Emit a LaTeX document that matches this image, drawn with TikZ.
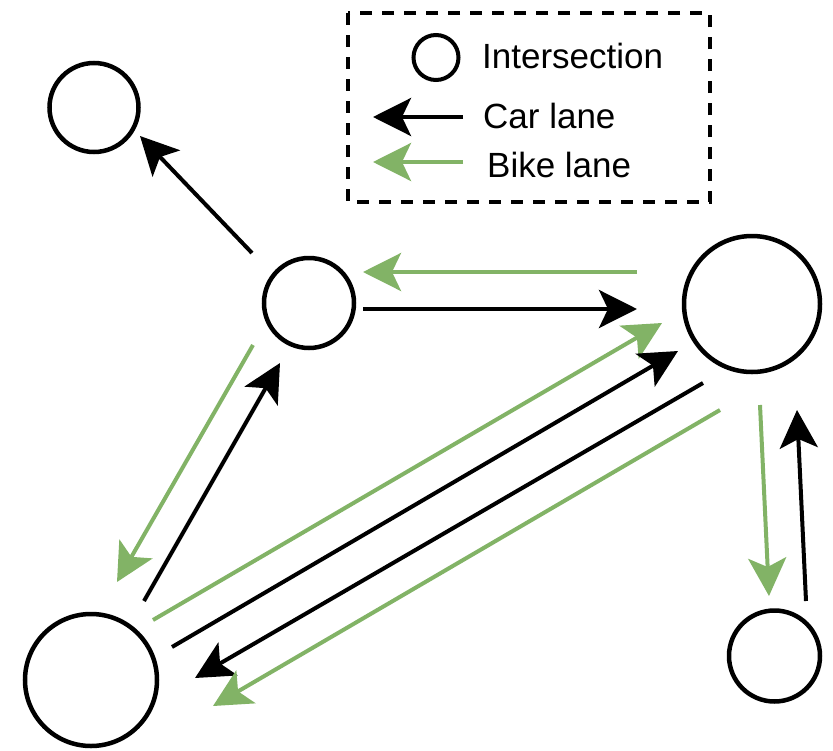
\documentclass[tikz,border=0pt]{standalone}
\usepackage{fontspec}
\setmainfont{Liberation Sans}
\usetikzlibrary{arrows.meta}
\definecolor{bikegreen}{HTML}{82B366}
\begin{document}
\begin{tikzpicture}[x=1pt,y=-1pt,
  inter/.style={circle,draw=black,line width=4.5pt,inner sep=0pt},
  tiphead/.style={-{Stealth[length=38pt,width=38pt,inset=9pt]}},
  car/.style={draw=black,line width=4pt,tiphead},
  bike/.style={draw=bikegreen,line width=4pt,tiphead},
  lbl/.style={anchor=base west,font=\fontsize{35}{42}\selectfont,inner sep=0pt}]
\useasboundingbox (0,0) rectangle (833,750);

% legend
\draw[line width=4pt,dash pattern=on 12pt off 10pt] (348,13) rectangle (710,202);
\node[inter,line width=4pt,minimum size=45pt] (legc) at (436,57.5) {};
\node[lbl] (legi) at (482,68) {Intersection};
\node[lbl] (legcar) at (483,128) {Car lane};
\node[lbl] (legbike) at (487,177) {Bike lane};
\coordinate (lc1) at (463,117); \coordinate (lc2) at (373,117);
\coordinate (lb1) at (463,162); \coordinate (lb2) at (373,162);
\draw[car] (lc1) -- (lc2);
\draw[bike] (lb1) -- (lb2);

% intersections
\node[inter,minimum size=89pt] (tl) at (94,107.5) {};
\node[inter,minimum size=90pt] (mid) at (309,303) {};
\node[inter,minimum size=136pt] (rt) at (752,304) {};
\node[inter,minimum size=132pt] (bl) at (91,680) {};
\node[inter,minimum size=91pt] (br) at (774.5,656) {};

% lane end points
\coordinate (a1s) at (252,253); \coordinate (a1e) at (140,136);
\coordinate (a2s) at (637,272); \coordinate (a2e) at (363,272);
\coordinate (a3s) at (363,309); \coordinate (a3e) at (637,309);
\coordinate (a4s) at (760,405); \coordinate (a4e) at (769,596);
\coordinate (a5s) at (806,601); \coordinate (a5e) at (797,410);
\coordinate (a6s) at (253,345); \coordinate (a6e) at (117,582);
\coordinate (a7s) at (144,601); \coordinate (a7e) at (280,363);
\coordinate (a8s) at (153,620); \coordinate (a8e) at (662,323);
\coordinate (a9s) at (172,647); \coordinate (a9e) at (678,351);
\coordinate (a10s) at (703,383); \coordinate (a10e) at (195,678);
\coordinate (a11s) at (720,410); \coordinate (a11e) at (213,706);

\draw[car] (a1s) -- (a1e);
\draw[bike] (a2s) -- (a2e);
\draw[car] (a3s) -- (a3e);
\draw[bike] (a4s) -- (a4e);
\draw[car] (a5s) -- (a5e);
\draw[bike] (a6s) -- (a6e);
\draw[car] (a7s) -- (a7e);
\draw[bike] (a8s) -- (a8e);
\draw[car] (a9s) -- (a9e);
\draw[car] (a10s) -- (a10e);
\draw[bike] (a11s) -- (a11e);
\end{tikzpicture}
\end{document}
